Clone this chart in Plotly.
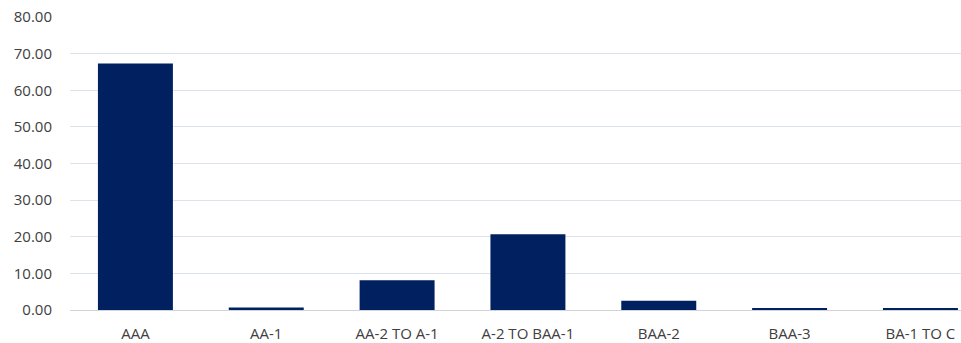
import plotly.graph_objects as go

categories = ["AAA", "AA-1", "AA-2 TO A-1", "A-2 TO BAA-1", "BAA-2", "BAA-3", "BA-1 TO C"]
values = [67.3, 0.7, 8.1, 20.7, 2.5, 0.35, 0.35]
y_ticks = [0, 10, 20, 30, 40, 50, 60, 70, 80]

fig = go.Figure(go.Bar(
    x=list(range(len(categories))),
    y=values,
    marker=dict(color="#002060", line=dict(width=0)),
    width=0.573,
))

fig.update_layout(
    width=961, height=343,
    margin=dict(l=70, r=0, t=17, b=33),
    paper_bgcolor="white", plot_bgcolor="white",
    font=dict(family="Open Sans, Liberation Sans, sans-serif", size=15, color="#404040"),
    showlegend=False,
    xaxis=dict(
        range=[-0.5, 6.31],
        tickmode="array",
        tickvals=list(range(len(categories))),
        ticktext=categories,
        showgrid=False,
        showline=True, linecolor="#d0d5dc", linewidth=1,
        ticks="", zeroline=False,
        ticklabelstandoff=10,
        tickfont=dict(size=15, color="#404040"),
    ),
    yaxis=dict(
        range=[0, 80],
        tickvals=y_ticks,
        tickformat=".2f",
        showgrid=True, gridcolor="#dde3ea", gridwidth=1,
        zeroline=False, showline=False, ticks="",
        ticklabelstandoff=17,
        tickfont=dict(size=15, color="#404040"),
    ),
)

fig.write_html("out.html")
